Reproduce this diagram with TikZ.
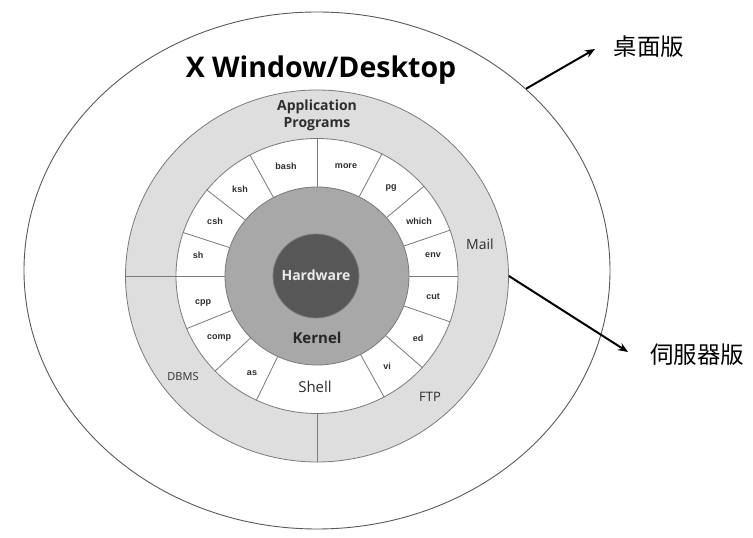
\documentclass[tikz,border=0pt]{standalone}
\usepackage{fontspec}
\setmainfont{Open Sans}
\newfontfamily\cjkfont{Noto Sans CJK TC}
\newfontfamily\lblfont{Liberation Sans}
\usetikzlibrary{shapes.geometric,arrows.meta}
\definecolor{ringgray}{HTML}{DEDEDE}
\definecolor{kerngray}{HTML}{A8A8A8}
\definecolor{hwgray}{HTML}{575757}
\definecolor{linegray}{HTML}{7A7A7A}
\definecolor{txtgray}{HTML}{2E2E2E}
\begin{document}
\begin{tikzpicture}[x=1pt,y=1pt,
  ring/.style={ellipse, draw=linegray, line width=0.8pt, inner sep=0pt},
  divline/.style={draw=linegray, line width=0.8pt},
  cmd/.style={font=\lblfont\bfseries\fontsize{9}{10}\selectfont, text=txtgray, inner sep=1pt},
  svc/.style={font=\fontsize{14}{16}\selectfont, text=txtgray, inner sep=1pt},
  cjk/.style={font=\cjkfont\fontsize{23.5}{26}\selectfont, text=black, inner sep=1pt},
  arr/.style={line width=2pt, black, -{Stealth[length=10pt,width=8pt]}}]
\useasboundingbox (0,0) rectangle (753,538);
% rings
\node[ring, draw=black!65, line width=0.9pt, minimum width=586pt, minimum height=517pt] (outer) at (317,267.5) {};
\node[ring, fill=ringgray, minimum width=383pt, minimum height=372pt] (gray) at (317,262) {};
\node[ring, fill=white, minimum width=282pt, minimum height=275pt] (white) at (317,262) {};
\node[ring, fill=kerngray, minimum width=184pt, minimum height=178pt] (kernel) at (317,262) {};
\node[ring, fill=hwgray, minimum width=86pt, minimum height=84pt] (hw) at (316,262) {};
% dividers of the outer gray ring
\draw[divline] (gray.west) -- (white.west);
\draw[divline] (gray.south) -- (white.south);
% dividers of the shell ring
\foreach \a in {0,19,40,62,90,119,142,162,180,202,223,244,299,319,341}
  \draw[divline] (kernel.\a) -- (white.\a);
% texts
\node[font=\bfseries\fontsize{28.5}{32}\selectfont, text=black] (title) at (321,468) {X Window/Desktop};
\node[font=\bfseries\fontsize{14}{17}\selectfont, text=txtgray, align=center] (apps) at (317,422.5) {Application\\Programs};
\node[svc] (mail) at (480,294) {Mail};
\node[svc, font=\fontsize{11}{13}\selectfont] (dbms) at (183,161) {DBMS};
\node[svc, font=\fontsize{13}{15}\selectfont] (ftp) at (430,141) {FTP};
\node[svc, font=\fontsize{15}{18}\selectfont] (shell) at (315,151) {Shell};
\node[font=\bfseries\fontsize{15}{18}\selectfont, text=black!85] (kern) at (317,200) {Kernel};
\node[font=\bfseries\fontsize{14}{17}\selectfont, text=white!92!black] (hwt) at (316,263) {Hardware};
\node[cmd] (bash) at (286,372) {bash};
\node[cmd] (more) at (346,372) {more};
\node[cmd] (ksh) at (240,349) {ksh};
\node[cmd] (pg) at (391,350) {pg};
\node[cmd] (csh) at (215,317) {csh};
\node[cmd] (which) at (419,317) {which};
\node[cmd] (sh) at (198,283) {sh};
\node[cmd] (env) at (433,283) {env};
\node[cmd] (cpp) at (203,235) {cpp};
\node[cmd] (cut) at (433,241) {cut};
\node[cmd] (comp) at (219,200) {comp};
\node[cmd] (ed) at (418,200) {ed};
\node[cmd] (as) at (252,165) {as};
\node[cmd] (vi) at (387,172) {vi};
% side labels and arrows
\node[cjk] (desk) at (649,491) {桌面版};
\node[cjk] (server) at (697,183) {伺服器版};
\coordinate (t1) at (595,489);
\coordinate (t2) at (628,186);
\draw[arr] (outer.41) -- (t1);
\draw[arr] (gray.east) -- (t2);
\end{tikzpicture}
\end{document}
